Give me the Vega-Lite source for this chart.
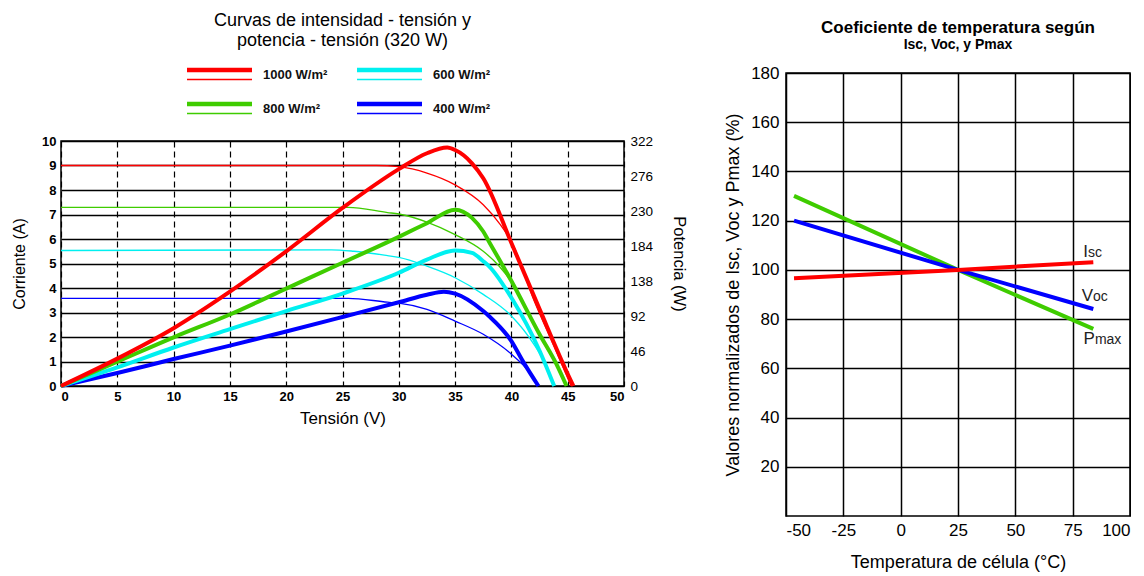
{
  "$schema": "https://vega.github.io/schema/vega-lite/v6.json",
  "padding": {"left": 10, "top": 12, "right": 0, "bottom": 0},
  "background": "white",
  "config": {
    "font": "Liberation Sans",
    "view": {"stroke": "black", "strokeWidth": 1.5},
    "axis": {"labelColor": "black", "titleColor": "black", "domain": false, "ticks": false}
  },
  "datasets": {
    "iv": [
      {"G": "1000 W/m²", "V": 0, "I": 9.0}, {"G": "1000 W/m²", "V": 28, "I": 9.0}, {"G": "1000 W/m²", "V": 30, "I": 8.95}, {"G": "1000 W/m²", "V": 32.5, "I": 8.69}, {"G": "1000 W/m²", "V": 35, "I": 8.21}, {"G": "1000 W/m²", "V": 37.5, "I": 7.4}, {"G": "1000 W/m²", "V": 39, "I": 6.6}, {"G": "1000 W/m²", "V": 40, "I": 5.9}, {"G": "1000 W/m²", "V": 42, "I": 3.5}, {"G": "1000 W/m²", "V": 44, "I": 1.4}, {"G": "1000 W/m²", "V": 45.3, "I": 0},
      {"G": "800 W/m²", "V": 0, "I": 7.29}, {"G": "800 W/m²", "V": 25.5, "I": 7.29}, {"G": "800 W/m²", "V": 29, "I": 7.08}, {"G": "800 W/m²", "V": 30, "I": 7.02}, {"G": "800 W/m²", "V": 32.5, "I": 6.69}, {"G": "800 W/m²", "V": 35, "I": 6.18}, {"G": "800 W/m²", "V": 37.5, "I": 5.5}, {"G": "800 W/m²", "V": 38.9, "I": 4.9}, {"G": "800 W/m²", "V": 40, "I": 4.25}, {"G": "800 W/m²", "V": 42.5, "I": 2.05}, {"G": "800 W/m²", "V": 44, "I": 0.85}, {"G": "800 W/m²", "V": 44.9, "I": 0},
      {"G": "600 W/m²", "V": 0, "I": 5.53}, {"G": "600 W/m²", "V": 24, "I": 5.56}, {"G": "600 W/m²", "V": 26, "I": 5.5}, {"G": "600 W/m²", "V": 29, "I": 5.32}, {"G": "600 W/m²", "V": 30, "I": 5.25}, {"G": "600 W/m²", "V": 32.5, "I": 4.89}, {"G": "600 W/m²", "V": 35, "I": 4.42}, {"G": "600 W/m²", "V": 37.5, "I": 3.74}, {"G": "600 W/m²", "V": 40, "I": 2.86}, {"G": "600 W/m²", "V": 42, "I": 1.7}, {"G": "600 W/m²", "V": 43, "I": 0.9}, {"G": "600 W/m²", "V": 43.8, "I": 0},
      {"G": "400 W/m²", "V": 0, "I": 3.58}, {"G": "400 W/m²", "V": 25.5, "I": 3.58}, {"G": "400 W/m²", "V": 29, "I": 3.42}, {"G": "400 W/m²", "V": 30, "I": 3.38}, {"G": "400 W/m²", "V": 32.5, "I": 3.13}, {"G": "400 W/m²", "V": 35, "I": 2.65}, {"G": "400 W/m²", "V": 37.5, "I": 2.11}, {"G": "400 W/m²", "V": 40, "I": 1.3}, {"G": "400 W/m²", "V": 41.5, "I": 0.62}, {"G": "400 W/m²", "V": 42.4, "I": 0}
    ],
    "pv": [
      {"G": "400 W/m²", "V": 0, "P": 0}, {"G": "400 W/m²", "V": 5, "P": 17}, {"G": "400 W/m²", "V": 10, "P": 35.4}, {"G": "400 W/m²", "V": 15, "P": 53}, {"G": "400 W/m²", "V": 20, "P": 71.6}, {"G": "400 W/m²", "V": 25, "P": 90.7}, {"G": "400 W/m²", "V": 30, "P": 110}, {"G": "400 W/m²", "V": 32.5, "P": 120}, {"G": "400 W/m²", "V": 34, "P": 124}, {"G": "400 W/m²", "V": 35, "P": 121.4}, {"G": "400 W/m²", "V": 37.5, "P": 98.5}, {"G": "400 W/m²", "V": 38, "P": 92}, {"G": "400 W/m²", "V": 40, "P": 59}, {"G": "400 W/m²", "V": 41, "P": 33}, {"G": "400 W/m²", "V": 42.4, "P": 0},
      {"G": "600 W/m²", "V": 0, "P": 0}, {"G": "600 W/m²", "V": 5, "P": 24.5}, {"G": "600 W/m²", "V": 10, "P": 50.6}, {"G": "600 W/m²", "V": 15, "P": 74.7}, {"G": "600 W/m²", "V": 20, "P": 98.5}, {"G": "600 W/m²", "V": 25, "P": 121.5}, {"G": "600 W/m²", "V": 30, "P": 148.8}, {"G": "600 W/m²", "V": 32.5, "P": 166.2}, {"G": "600 W/m²", "V": 35, "P": 178.1}, {"G": "600 W/m²", "V": 36.5, "P": 175}, {"G": "600 W/m²", "V": 37.5, "P": 164}, {"G": "600 W/m²", "V": 38, "P": 157.5}, {"G": "600 W/m²", "V": 40, "P": 116}, {"G": "600 W/m²", "V": 42.5, "P": 46.4}, {"G": "600 W/m²", "V": 43.8, "P": 0},
      {"G": "800 W/m²", "V": 0, "P": 0}, {"G": "800 W/m²", "V": 5, "P": 32}, {"G": "800 W/m²", "V": 10, "P": 64}, {"G": "800 W/m²", "V": 15, "P": 94}, {"G": "800 W/m²", "V": 20, "P": 128}, {"G": "800 W/m²", "V": 25, "P": 162}, {"G": "800 W/m²", "V": 30, "P": 196}, {"G": "800 W/m²", "V": 32.5, "P": 214}, {"G": "800 W/m²", "V": 35, "P": 231.8}, {"G": "800 W/m²", "V": 36.5, "P": 221}, {"G": "800 W/m²", "V": 37.5, "P": 203}, {"G": "800 W/m²", "V": 38, "P": 190}, {"G": "800 W/m²", "V": 40, "P": 138}, {"G": "800 W/m²", "V": 42.5, "P": 68}, {"G": "800 W/m²", "V": 44, "P": 28.7}, {"G": "800 W/m²", "V": 44.9, "P": 0},
      {"G": "1000 W/m²", "V": 0, "P": 0}, {"G": "1000 W/m²", "V": 5, "P": 36}, {"G": "1000 W/m²", "V": 10, "P": 76}, {"G": "1000 W/m²", "V": 15, "P": 124}, {"G": "1000 W/m²", "V": 20, "P": 177}, {"G": "1000 W/m²", "V": 25, "P": 234}, {"G": "1000 W/m²", "V": 30, "P": 285}, {"G": "1000 W/m²", "V": 32.5, "P": 305.9}, {"G": "1000 W/m²", "V": 34.3, "P": 313.3}, {"G": "1000 W/m²", "V": 35, "P": 310.1}, {"G": "1000 W/m²", "V": 36.5, "P": 292.7}, {"G": "1000 W/m²", "V": 37.5, "P": 273}, {"G": "1000 W/m²", "V": 40, "P": 188}, {"G": "1000 W/m²", "V": 42.5, "P": 101}, {"G": "1000 W/m²", "V": 45, "P": 15.8}, {"G": "1000 W/m²", "V": 45.5, "P": 0}
    ],
    "temp": [
      {"param": "Pmax", "T": -46.5, "N": 130.1}, {"param": "Pmax", "T": 25, "N": 100}, {"param": "Pmax", "T": 84, "N": 76.0},
      {"param": "Voc", "T": -46.5, "N": 120.0}, {"param": "Voc", "T": 25, "N": 100}, {"param": "Voc", "T": 84, "N": 84.1},
      {"param": "Isc", "T": -46.5, "N": 96.6}, {"param": "Isc", "T": 25, "N": 100}, {"param": "Isc", "T": 84, "N": 103.1}
    ],
    "tlabels": [
      {"main": "I", "sub": "sc", "T": 81.7, "N": 105.1},
      {"main": "V", "sub": "oc", "T": 83.9, "N": 87.5},
      {"main": "P", "sub": "max", "T": 84.7, "N": 69.9}
    ],
    "empty": []
  },
  "resolve": {"scale": {"color": "independent"}, "legend": {"color": "independent"}},
  "spacing": 35,
  "hconcat": [
    {
      "spacing": 0,
      "resolve": {"scale": {"color": "independent"}, "legend": {"color": "independent"}},
      "vconcat": [
        {
          "width": 563,
          "height": 60,
          "view": {"stroke": null},
          "title": {"text": ["Curvas de intensidad - tensión y", "potencia - tensión (320 W)"], "fontSize": 18, "fontWeight": "normal", "lineHeight": 19.5, "offset": 14, "anchor": "middle", "frame": "group"},
          "data": {"name": "empty"},
          "mark": {"type": "line"},
          "encoding": {
            "color": {"field": "G", "type": "nominal",
              "scale": {"domain": ["1000 W/m²", "800 W/m²", "600 W/m²", "400 W/m²"], "range": ["#ff0000", "#3fcc00", "#00f0f0", "#0000ff"]},
              "legend": {"orient": "none", "legendX": 125, "legendY": -9.5, "columns": 2, "title": null, "padding": 0,
                "symbolType": "M-1,-0.6H5.5M-1,-0.5H5.5M-1,-0.4H5.5M-1,-0.3H5.5M-1,0.5H5.5", "symbolSize": 400, "symbolStrokeWidth": 1.5,
                "labelFontSize": 13, "labelFontWeight": "bold", "labelColor": "#111111", "labelOffset": 55, "columnPadding": 26, "rowPadding": 15,
                "encode": {"symbols": {"update": {"strokeWidth": {"value": 1.5}, "opacity": {"value": 1}}}}}}
          }
        },
        {
          "width": 563,
          "height": 245,
          "resolve": {"scale": {"y": "independent"}},
          "layer": [
            {
              "data": {"name": "iv"},
              "mark": {"type": "line", "strokeWidth": 1.3, "interpolate": "monotone"},
              "encoding": {
                "x": {"field": "V", "type": "quantitative", "scale": {"domain": [0, 50], "nice": false},
                  "axis": {"values": [0, 5, 10, 15, 20, 25, 30, 35, 40, 45, 50], "title": "Tensión (V)", "titleFontSize": 17, "titleFontWeight": "normal", "titlePadding": 7, "labelFontSize": 13, "labelFontWeight": "bold", "labelPadding": 4, "grid": true, "gridColor": "black", "gridDash": [6, 4], "gridWidth": 1.2, "gridOpacity": 1}},
                "y": {"field": "I", "type": "quantitative", "scale": {"domain": [0, 10], "nice": false},
                  "axis": {"values": [0, 1, 2, 3, 4, 5, 6, 7, 8, 9, 10], "title": "Corriente (A)", "titleFontSize": 16, "titleFontWeight": "normal", "titlePadding": 14, "labelFontSize": 13, "labelFontWeight": "bold", "labelPadding": 5, "grid": true, "gridColor": "black", "gridWidth": 1.5, "gridOpacity": 1}},
                "color": {"field": "G", "type": "nominal",
                  "scale": {"domain": ["1000 W/m²", "800 W/m²", "600 W/m²", "400 W/m²"], "range": ["#ff0000", "#3fcc00", "#00f0f0", "#0000ff"]},
                  "legend": null}
              }
            },
            {
              "data": {"name": "pv"},
              "mark": {"type": "line", "strokeWidth": 4, "interpolate": "monotone"},
              "encoding": {
                "x": {"field": "V", "type": "quantitative"},
                "y": {"field": "P", "type": "quantitative", "scale": {"domain": [0, 322], "nice": false},
                  "axis": {"orient": "right", "values": [0, 46, 92, 138, 184, 230, 276, 322], "title": "Potencia (W)", "titleFontSize": 16.5, "titleFontWeight": "normal", "titlePadding": 18, "labelFontSize": 13.5, "labelPadding": 6, "grid": false}},
                "color": {"field": "G", "type": "nominal"}
              }
            }
          ]
        }
      ]
    },
    {
      "width": 344,
      "height": 443,
      "title": {"text": "Coeficiente de temperatura según", "subtitle": "Isc, Voc, y Pmax", "fontSize": 17, "fontWeight": "bold", "subtitleFontSize": 14, "subtitleFontWeight": "bold", "subtitleColor": "black", "subtitlePadding": 1, "offset": 11, "anchor": "middle", "frame": "group"},
      "layer": [
        {
          "data": {"name": "temp"},
          "mark": {"type": "line", "strokeWidth": 4},
          "encoding": {
            "x": {"field": "T", "type": "quantitative", "scale": {"domain": [-50, 100], "nice": false},
              "axis": {"values": [-50, -25, 0, 25, 50, 75, 100], "labelExpr": "datum.value + ''", "title": "Temperatura de célula (°C)", "titleFontSize": 18, "titleFontWeight": "normal", "titlePadding": 15, "labelFontSize": 17, "labelPadding": 6, "grid": true, "gridColor": "black", "gridWidth": 1.5, "gridOpacity": 1}},
            "y": {"field": "N", "type": "quantitative", "scale": {"domain": [0, 180], "nice": false},
              "axis": {"values": [20, 40, 60, 80, 100, 120, 140, 160, 180], "title": "Valores normalizados de Isc, Voc y Pmax (%)", "titleFontSize": 18, "titleFontWeight": "normal", "titlePadding": 8, "labelFontSize": 17, "labelPadding": 7, "grid": true, "gridColor": "black", "gridWidth": 1.5, "gridOpacity": 1}},
            "color": {"field": "param", "type": "nominal", "scale": {"domain": ["Isc", "Voc", "Pmax"], "range": ["#ff0000", "#0000ff", "#3fcc00"]}, "legend": null}
          }
        },
        {
          "data": {"name": "tlabels"},
          "mark": {"type": "text", "align": "right", "baseline": "alphabetic", "fontSize": 17, "color": "#222222"},
          "encoding": {"x": {"field": "T", "type": "quantitative"}, "y": {"field": "N", "type": "quantitative"}, "text": {"field": "main"}}
        },
        {
          "data": {"name": "tlabels"},
          "mark": {"type": "text", "align": "left", "baseline": "alphabetic", "fontSize": 14, "color": "#222222"},
          "encoding": {"x": {"field": "T", "type": "quantitative"}, "y": {"field": "N", "type": "quantitative"}, "text": {"field": "sub"}}
        }
      ]
    }
  ]
}
